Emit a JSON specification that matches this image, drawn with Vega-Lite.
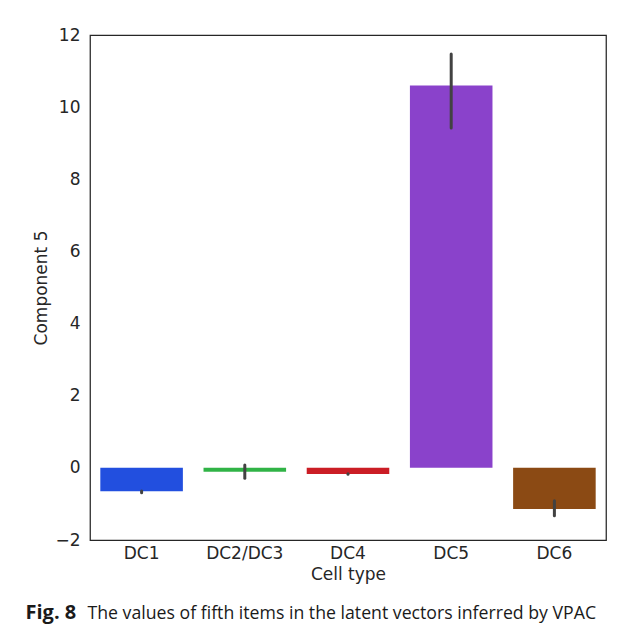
{
  "$schema": "https://vega.github.io/schema/vega-lite/v6.json",
  "width": 516,
  "height": 505,
  "autosize": "none",
  "padding": {"left": 90, "top": 35, "right": 19, "bottom": 88},
  "background": "white",
  "data": {
    "values": [
      {"cell": "DC1", "value": -0.65, "lo": -0.69, "hi": -0.64},
      {"cell": "DC2/DC3", "value": -0.11, "lo": -0.29, "hi": 0.08},
      {"cell": "DC4", "value": -0.17, "lo": -0.18, "hi": -0.16},
      {"cell": "DC5", "value": 10.6, "lo": 9.42, "hi": 11.47},
      {"cell": "DC6", "value": -1.14, "lo": -1.33, "hi": -0.91}
    ]
  },
  "resolve": {"axis": {"x": "independent", "y": "independent"}},
  "layer": [
    {
      "mark": {"type": "bar"},
      "encoding": {
        "x": {
          "field": "cell",
          "type": "nominal",
          "sort": null,
          "scale": {"paddingInner": 0.2, "paddingOuter": 0.1},
          "axis": {
            "orient": "bottom",
            "title": "Cell type",
            "labelAngle": 0,
            "domain": false,
            "ticks": false,
            "labelPadding": 5,
            "labelFontSize": 17,
            "labelColor": "#262626",
            "titleFontSize": 17,
            "titleFontWeight": "normal",
            "titleColor": "#262626",
            "titlePadding": 5
          }
        },
        "y": {
          "field": "value",
          "type": "quantitative",
          "scale": {"domain": [-2, 12], "nice": false},
          "axis": {
            "orient": "left",
            "title": "Component 5",
            "values": [-2, 0, 2, 4, 6, 8, 10, 12],
            "grid": false,
            "domain": false,
            "ticks": false,
            "labelPadding": 10,
            "labelFontSize": 17,
            "labelColor": "#262626",
            "titleFontSize": 17,
            "titleFontWeight": "normal",
            "titleColor": "#262626",
            "titlePadding": 4
          }
        },
        "color": {
          "field": "cell",
          "type": "nominal",
          "scale": {"range": ["#224fdf", "#30b346", "#cb1d25", "#8a42cb", "#8b4a14"]},
          "legend": null
        }
      }
    },
    {
      "mark": {"type": "rule", "color": "#424242", "strokeWidth": 3, "strokeCap": "round"},
      "encoding": {
        "x": {
          "field": "cell",
          "type": "nominal",
          "sort": null,
          "axis": {
            "orient": "bottom",
            "title": "The values of fifth items in the latent vectors inferred by VPAC",
            "labels": false,
            "domain": false,
            "ticks": false,
            "grid": false,
            "titleX": -3,
            "titleY": 78,
            "titleAlign": "left",
            "titleAnchor": "start",
            "titleBaseline": "alphabetic",
            "titleFont": "Open Sans",
            "titleFontSize": 17.7,
            "titleFontWeight": "normal",
            "titleColor": "#1a1a1a"
          }
        },
        "y": {
          "field": "lo",
          "type": "quantitative",
          "axis": {
            "orient": "left",
            "title": "Fig. 8",
            "labels": false,
            "domain": false,
            "ticks": false,
            "grid": false,
            "titleAngle": 0,
            "titleX": -65,
            "titleY": 583,
            "titleAlign": "left",
            "titleAnchor": "start",
            "titleBaseline": "alphabetic",
            "titleFont": "Open Sans",
            "titleFontSize": 20,
            "titleFontWeight": "bold",
            "titleColor": "#1a1a1a"
          }
        },
        "y2": {"field": "hi"}
      }
    }
  ],
  "config": {
    "view": {"stroke": "#262626", "strokeWidth": 1.25},
    "axis": {"labelFont": "DejaVu Sans", "titleFont": "DejaVu Sans"}
  }
}
